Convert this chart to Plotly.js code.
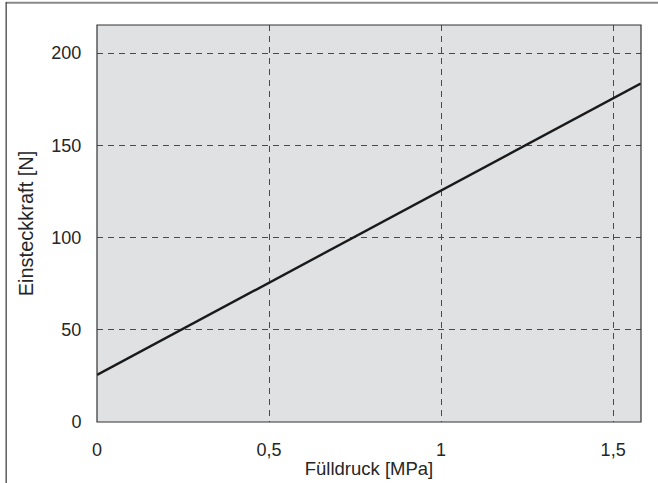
<!DOCTYPE html>
<html><head><meta charset="utf-8">
<script src="https://cdn.plot.ly/plotly-3.0.1.min.js"></script>
<style>body{margin:0;background:#fff}#c{width:658px;height:483px}</style>
</head><body><div id="c"></div>
<script>
const pressure = [0, 1.58];
const force = [25.5, 183.5];
const xTicks = [0, 0.5, 1, 1.5];
const xTickText = ["0", "0,5", "1", "1,5"];
const yTicks = [0, 50, 100, 150, 200];

const font = {family: "Liberation Sans, Arial, sans-serif", size: 18, color: "#262626"};
const xTitleFont = {family: "Liberation Sans, Arial, sans-serif", size: 18.5, color: "#262626"};
const yTitleFont = {family: "Liberation Sans, Arial, sans-serif", size: 20, color: "#262626"};
Plotly.newPlot("c", [{
  x: pressure, y: force, type: "scatter", mode: "lines",
  line: {color: "#1a1a1a", width: 2.4}, hoverinfo: "skip"
}], {
  width: 658, height: 483,
  margin: {l: 97, r: 17, t: 25, b: 61},
  paper_bgcolor: "#fff", plot_bgcolor: "#e0e1e3",
  showlegend: false, font: font,
  xaxis: {
    range: [0, 1.581], tickvals: xTicks, ticktext: xTickText,
    showgrid: true, gridcolor: "#4a4a4a", griddash: "6px,5px", gridwidth: 1,
    zeroline: false, showline: false, ticks: "outside", ticklen: 11, tickcolor: "rgba(0,0,0,0)",
    title: {text: "Fülldruck [MPa]", font: xTitleFont, standoff: 3}, tickfont: font
  },
  yaxis: {
    range: [0, 215.2], tickvals: yTicks,
    showgrid: true, gridcolor: "#4a4a4a", griddash: "6px,5px", gridwidth: 1,
    zeroline: false, showline: false, ticks: "outside", ticklen: 11, tickcolor: "rgba(0,0,0,0)",
    title: {text: "Einsteckkraft [N]", font: yTitleFont, standoff: 12}, tickfont: font
  },
  shapes: [
    {type: "rect", xref: "paper", yref: "paper", x0: 0, x1: 1, y0: 0, y1: 1,
     line: {color: "#333", width: 1.2}, fillcolor: "rgba(0,0,0,0)"},
    {type: "line", xref: "paper", yref: "paper", x0: -0.167, x1: 1.04, y0: 1.056, y1: 1.056,
     line: {color: "#888", width: 2}},
    {type: "line", xref: "paper", yref: "paper", x0: -0.167, x1: -0.167, y0: 1.058, y1: -0.16,
     line: {color: "#333", width: 1.2}}
  ]
}, {displayModeBar: false, staticPlot: true});
</script></body></html>
